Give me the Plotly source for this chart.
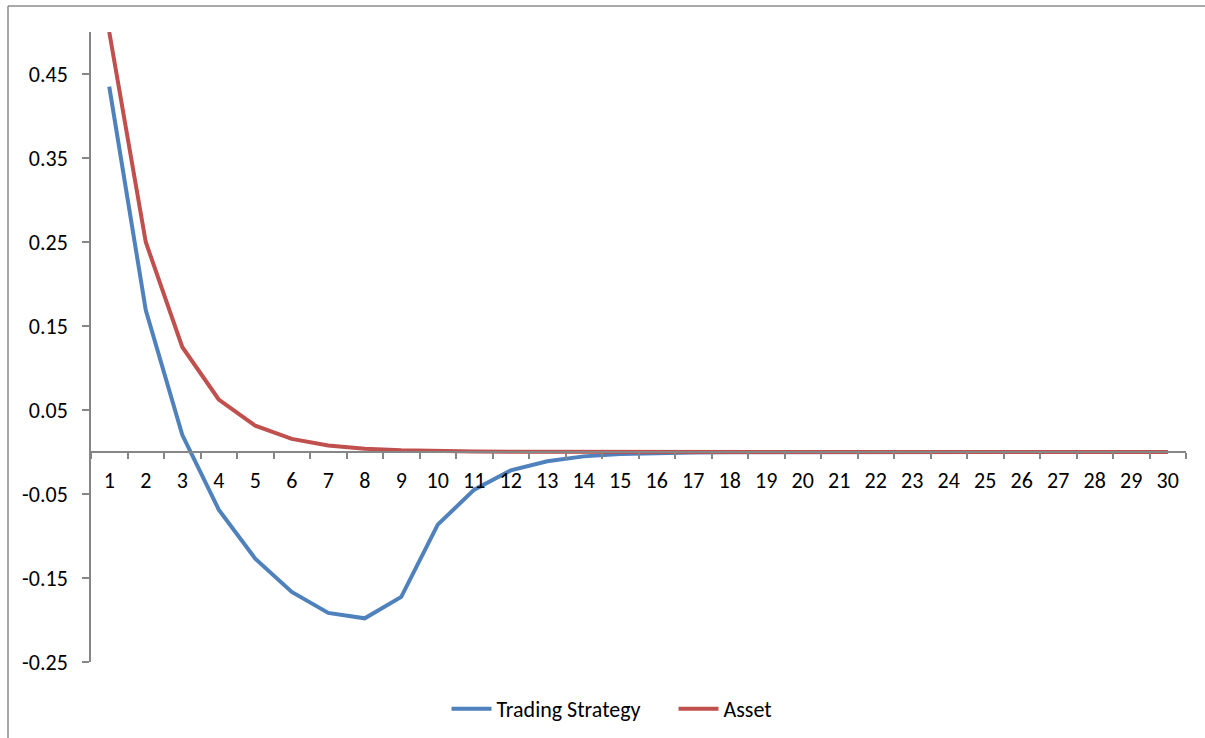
import plotly.graph_objects as go

categories = [str(i) for i in range(1, 31)]
trading_strategy = [0.435, 0.169, 0.0205, -0.0686, -0.127, -0.1665, -0.1915, -0.198, -0.1725,
                    -0.0865, -0.0448, -0.0219, -0.0111, -0.0052, -0.0025, -0.0012, -0.0006,
                    -0.0003, -0.00015, -0.00008, -0.00004, -0.00002, -0.00001, 0.0, 0.0,
                    0.0, 0.0, 0.0, 0.0, 0.0]
asset = [0.5, 0.25, 0.125, 0.0625, 0.03125, 0.0156, 0.0078, 0.0039, 0.002, 0.001,
         0.0005, 0.00024, 0.00012, 0.00006, 0.00003, 0.000015, 0.000008, 0.000004,
         0.000002, 0.000001, 0.0, 0.0, 0.0, 0.0, 0.0, 0.0, 0.0, 0.0, 0.0, 0.0]
y_ticks = [-0.25, -0.15, -0.05, 0.05, 0.15, 0.25, 0.35, 0.45]
y_tick_labels = ["-0.25", "-0.15", "-0.05", "0.05", "0.15", "0.25", "0.35", "0.45"]

FONT = "Calibri, Carlito, Lato, sans-serif"
FS = 22
W, H = 1205, 738
ML, MR, MT, MB = 91, 19, 32, 76
pw, ph = W - ML - MR, H - MT - MB

fig = go.Figure()
fig.add_trace(go.Scatter(x=categories, y=trading_strategy, mode="lines", name="Trading Strategy",
                         line=dict(color="#4F81BD", width=4), legendwidth=172))
fig.add_trace(go.Scatter(x=categories, y=asset, mode="lines", name="Asset",
                         line=dict(color="#C0504D", width=4)))

ymin, ymax = -0.25, 0.5
fig.update_layout(
    width=W, height=H,
    margin=dict(l=ML, r=MR, t=MT, b=MB, autoexpand=False),
    paper_bgcolor="white", plot_bgcolor="white",
    font=dict(family=FONT, size=FS, color="black"),
    showlegend=True,
    legend=dict(orientation="h", x=(612 - ML) / pw, xanchor="center",
                y=(H - MB - 709) / ph, yanchor="middle",
                font=dict(family=FONT, size=FS, color="black"), itemwidth=40),
    xaxis=dict(type="category", range=[-0.5, 29.5], anchor="free",
               position=(0 - ymin) / (ymax - ymin),
               showline=True, linecolor="#868686", linewidth=1.5,
               ticks="outside", tickson="boundaries", ticklen=6, tickcolor="#868686",
               tickwidth=1.5, showgrid=False, zeroline=False, ticklabelstandoff=9,
               tickfont=dict(family=FONT, size=FS, color="black")),
    yaxis=dict(range=[ymin, ymax], tickvals=y_ticks, ticktext=y_tick_labels,
               showline=True, linecolor="#868686", linewidth=1.5,
               ticks="outside", ticklen=7, tickcolor="#868686", tickwidth=1.5,
               showgrid=False, zeroline=False, ticklabelstandoff=10,
               tickfont=dict(family=FONT, size=FS, color="black")),
)

# outer chart border (only top and left edges are visible in the crop)
bx = (8 - ML) / pw
by = (H - MB - 6) / ph
fig.add_shape(type="line", xref="paper", yref="paper", x0=bx, x1=1.2, y0=by, y1=by,
              line=dict(color="#8C8C8C", width=1.5))
fig.add_shape(type="line", xref="paper", yref="paper", x0=bx, x1=bx, y0=by, y1=-0.3,
              line=dict(color="#8C8C8C", width=1.5))

fig.write_html("out.html", config={"displayModeBar": False},
               post_script="document.body.style.margin='0';document.body.style.overflow='hidden';")
